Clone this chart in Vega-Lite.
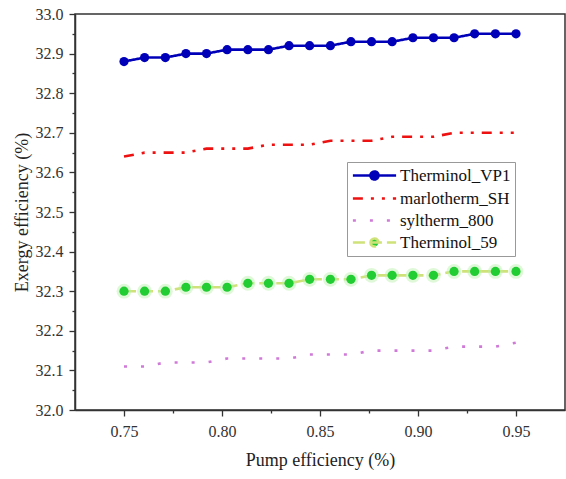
{
  "$schema": "https://vega.github.io/schema/vega-lite/v6.json",
  "autosize": {"type": "none"},
  "padding": {"left": 75, "top": 14, "right": 1, "bottom": 69},
  "width": 490,
  "height": 396,
  "background": "white",
  "config": {
    "view": {"stroke": "#333", "strokeWidth": 1.5},
    "font": "Liberation Serif, Times New Roman, DejaVu Serif, serif",
    "axis": {
      "labelFont": "Liberation Serif, Times New Roman, DejaVu Serif, serif",
      "labelFontSize": 16,
      "labelColor": "#333",
      "titleFont": "Liberation Serif, Times New Roman, DejaVu Serif, serif",
      "titleFontSize": 18,
      "titleFontWeight": "normal",
      "titleColor": "#222",
      "domainColor": "#333",
      "domainWidth": 1.5,
      "tickColor": "#333",
      "tickWidth": 1.3,
      "grid": false
    }
  },
  "datasets": {
    "d": [
      {"series": "Therminol_VP1", "x": 0.75, "y": 32.88},
      {"series": "Therminol_VP1", "x": 0.7605, "y": 32.89},
      {"series": "Therminol_VP1", "x": 0.7711, "y": 32.89},
      {"series": "Therminol_VP1", "x": 0.7816, "y": 32.90},
      {"series": "Therminol_VP1", "x": 0.7921, "y": 32.90},
      {"series": "Therminol_VP1", "x": 0.8026, "y": 32.91},
      {"series": "Therminol_VP1", "x": 0.8132, "y": 32.91},
      {"series": "Therminol_VP1", "x": 0.8237, "y": 32.91},
      {"series": "Therminol_VP1", "x": 0.8342, "y": 32.92},
      {"series": "Therminol_VP1", "x": 0.8447, "y": 32.92},
      {"series": "Therminol_VP1", "x": 0.8553, "y": 32.92},
      {"series": "Therminol_VP1", "x": 0.8658, "y": 32.93},
      {"series": "Therminol_VP1", "x": 0.8763, "y": 32.93},
      {"series": "Therminol_VP1", "x": 0.8868, "y": 32.93},
      {"series": "Therminol_VP1", "x": 0.8974, "y": 32.94},
      {"series": "Therminol_VP1", "x": 0.9079, "y": 32.94},
      {"series": "Therminol_VP1", "x": 0.9184, "y": 32.94},
      {"series": "Therminol_VP1", "x": 0.9289, "y": 32.95},
      {"series": "Therminol_VP1", "x": 0.9395, "y": 32.95},
      {"series": "Therminol_VP1", "x": 0.95, "y": 32.95},
      {"series": "marlotherm_SH", "x": 0.75, "y": 32.64},
      {"series": "marlotherm_SH", "x": 0.7605, "y": 32.65},
      {"series": "marlotherm_SH", "x": 0.7711, "y": 32.65},
      {"series": "marlotherm_SH", "x": 0.7816, "y": 32.65},
      {"series": "marlotherm_SH", "x": 0.7921, "y": 32.66},
      {"series": "marlotherm_SH", "x": 0.8026, "y": 32.66},
      {"series": "marlotherm_SH", "x": 0.8132, "y": 32.66},
      {"series": "marlotherm_SH", "x": 0.8237, "y": 32.67},
      {"series": "marlotherm_SH", "x": 0.8342, "y": 32.67},
      {"series": "marlotherm_SH", "x": 0.8447, "y": 32.67},
      {"series": "marlotherm_SH", "x": 0.8553, "y": 32.68},
      {"series": "marlotherm_SH", "x": 0.8658, "y": 32.68},
      {"series": "marlotherm_SH", "x": 0.8763, "y": 32.68},
      {"series": "marlotherm_SH", "x": 0.8868, "y": 32.69},
      {"series": "marlotherm_SH", "x": 0.8974, "y": 32.69},
      {"series": "marlotherm_SH", "x": 0.9079, "y": 32.69},
      {"series": "marlotherm_SH", "x": 0.9184, "y": 32.70},
      {"series": "marlotherm_SH", "x": 0.9289, "y": 32.70},
      {"series": "marlotherm_SH", "x": 0.9395, "y": 32.70},
      {"series": "marlotherm_SH", "x": 0.95, "y": 32.70},
      {"series": "syltherm_800", "x": 0.75, "y": 32.11},
      {"series": "syltherm_800", "x": 0.7605, "y": 32.11},
      {"series": "syltherm_800", "x": 0.7711, "y": 32.12},
      {"series": "syltherm_800", "x": 0.7816, "y": 32.12},
      {"series": "syltherm_800", "x": 0.7921, "y": 32.12},
      {"series": "syltherm_800", "x": 0.8026, "y": 32.13},
      {"series": "syltherm_800", "x": 0.8132, "y": 32.13},
      {"series": "syltherm_800", "x": 0.8237, "y": 32.13},
      {"series": "syltherm_800", "x": 0.8342, "y": 32.13},
      {"series": "syltherm_800", "x": 0.8447, "y": 32.14},
      {"series": "syltherm_800", "x": 0.8553, "y": 32.14},
      {"series": "syltherm_800", "x": 0.8658, "y": 32.14},
      {"series": "syltherm_800", "x": 0.8763, "y": 32.15},
      {"series": "syltherm_800", "x": 0.8868, "y": 32.15},
      {"series": "syltherm_800", "x": 0.8974, "y": 32.15},
      {"series": "syltherm_800", "x": 0.9079, "y": 32.15},
      {"series": "syltherm_800", "x": 0.9184, "y": 32.16},
      {"series": "syltherm_800", "x": 0.9289, "y": 32.16},
      {"series": "syltherm_800", "x": 0.9395, "y": 32.16},
      {"series": "syltherm_800", "x": 0.95, "y": 32.17},
      {"series": "Therminol_59", "x": 0.75, "y": 32.30},
      {"series": "Therminol_59", "x": 0.7605, "y": 32.30},
      {"series": "Therminol_59", "x": 0.7711, "y": 32.30},
      {"series": "Therminol_59", "x": 0.7816, "y": 32.31},
      {"series": "Therminol_59", "x": 0.7921, "y": 32.31},
      {"series": "Therminol_59", "x": 0.8026, "y": 32.31},
      {"series": "Therminol_59", "x": 0.8132, "y": 32.32},
      {"series": "Therminol_59", "x": 0.8237, "y": 32.32},
      {"series": "Therminol_59", "x": 0.8342, "y": 32.32},
      {"series": "Therminol_59", "x": 0.8447, "y": 32.33},
      {"series": "Therminol_59", "x": 0.8553, "y": 32.33},
      {"series": "Therminol_59", "x": 0.8658, "y": 32.33},
      {"series": "Therminol_59", "x": 0.8763, "y": 32.34},
      {"series": "Therminol_59", "x": 0.8868, "y": 32.34},
      {"series": "Therminol_59", "x": 0.8974, "y": 32.34},
      {"series": "Therminol_59", "x": 0.9079, "y": 32.34},
      {"series": "Therminol_59", "x": 0.9184, "y": 32.35},
      {"series": "Therminol_59", "x": 0.9289, "y": 32.35},
      {"series": "Therminol_59", "x": 0.9395, "y": 32.35},
      {"series": "Therminol_59", "x": 0.95, "y": 32.35}
    ]
  },
  "data": {"name": "d"},
  "encoding": {
    "x": {
      "field": "x", "type": "quantitative",
      "scale": {"domain": [0.725, 0.975], "nice": false, "zero": false},
      "axis": {
        "title": "Pump  efficiency (%)",
        "values": [0.75, 0.775, 0.8, 0.825, 0.85, 0.875, 0.9, 0.925, 0.95],
        "labelExpr": "abs(datum.value*20 - round(datum.value*20)) < 0.01 ? format(datum.value, '.2f') : ''",
        "tickSize": {"condition": {"test": "abs(datum.value*20 - round(datum.value*20)) < 0.01", "value": 6}, "value": 3},
        "labelPadding": 7,
        "titlePadding": 12
      }
    },
    "y": {
      "field": "y", "type": "quantitative",
      "scale": {"domain": [32.0, 33.0], "nice": false, "zero": false},
      "axis": {
        "title": "Exergy efficiency (%)",
        "values": [32.0, 32.05, 32.1, 32.15, 32.2, 32.25, 32.3, 32.35, 32.4, 32.45, 32.5, 32.55, 32.6, 32.65, 32.7, 32.75, 32.8, 32.85, 32.9, 32.95, 33.0],
        "labelExpr": "abs(datum.value*10 - round(datum.value*10)) < 0.01 ? format(datum.value, '.1f') : ''",
        "tickSize": {"condition": {"test": "abs(datum.value*10 - round(datum.value*10)) < 0.01", "value": 6}, "value": 3},
        "labelPadding": 6,
        "titlePadding": 4
      }
    }
  },
  "layer": [
    {
      "mark": {"type": "line", "strokeWidth": 2.6},
      "encoding": {
        "color": {
          "field": "series", "type": "nominal",
          "scale": {
            "domain": ["Therminol_VP1", "marlotherm_SH", "syltherm_800", "Therminol_59"],
            "range": ["#0000b8", "#ee1111", "#d07ad8", "#cfe27a"]
          },
          "legend": {
            "title": null,
            "orient": "none",
            "legendX": 272,
            "legendY": 148,
            "strokeColor": "#999",
            "fillColor": "white",
            "padding": 4,
            "symbolSize": 256,
            "symbolOffset": 14,
            "symbolStrokeWidth": 2.6,
            "labelFont": "Liberation Serif, Times New Roman, DejaVu Serif, serif",
            "labelFontSize": 17,
            "labelColor": "#111",
            "labelOffset": 16,
            "rowPadding": 4,
            "encode": {
              "symbols": {
                "update": {
                  "shape": [
                    {"test": "datum.value === 'Therminol_VP1' || datum.value === 'Therminol_59'", "value": "M-2.7,0H2.7M-0.5,0A0.5,0.5,0,1,1,0.5,0A0.5,0.5,0,1,1,-0.5,0Z"},
                    {"value": "M-2.7,0H2.7"}
                  ],
                  "fill": [
                    {"test": "datum.value === 'Therminol_VP1'", "value": "#0000b8"},
                    {"test": "datum.value === 'Therminol_59'", "value": "#22cc33"},
                    {"value": "transparent"}
                  ]
                }
              }
            }
          }
        },
        "strokeDash": {
          "field": "series", "type": "nominal",
          "scale": {
            "domain": ["Therminol_VP1", "marlotherm_SH", "syltherm_800", "Therminol_59"],
            "range": [[1, 0], [10, 8, 3, 8, 3, 8], [3, 14], [12, 5]]
          },
          "legend": null
        }
      }
    },
    {
      "transform": [{"filter": "datum.series === 'Therminol_59'"}],
      "mark": {"type": "circle", "size": 220, "color": "#b8f0a8", "opacity": 0.45}
    },
    {
      "transform": [{"filter": "datum.series === 'Therminol_VP1' || datum.series === 'Therminol_59'"}],
      "mark": {"type": "circle", "size": 85, "opacity": 1},
      "encoding": {
        "color": {
          "condition": {"test": "datum.series === 'Therminol_VP1'", "value": "#0000b8"},
          "value": "#22cc33"
        }
      }
    }
  ]
}
